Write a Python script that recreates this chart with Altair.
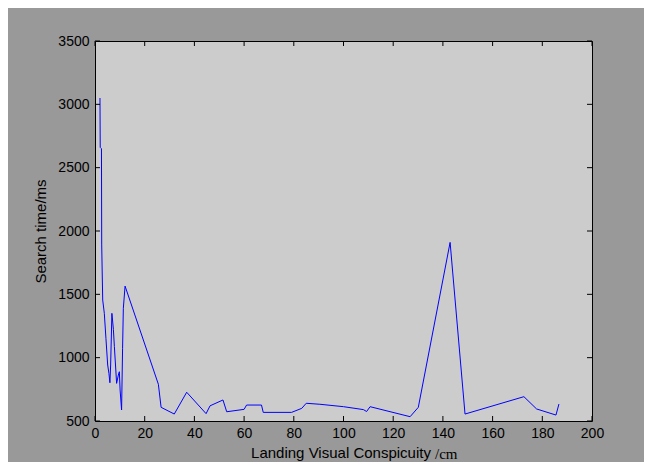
import altair as alt
import pandas as pd

# Line data (x in cm, y in ms)
conspicuity = [2.0, 2.1, 2.6, 2.7, 3.1, 3.75, 4.4, 5.1, 5.6, 6.0, 6.3, 6.8, 7.4, 7.8,
               8.7, 9.4, 9.8, 10.1, 10.7, 11.1, 11.4, 12.1, 25.5, 26.6, 31.9, 36.9,
               44.7, 46.3, 51.5, 53.0, 60.0, 61.0, 67.0, 67.7, 79.1, 83.2, 85.0, 90.5,
               100.0, 108.0, 109.3, 110.7, 126.8, 130.1, 142.9, 148.9, 172.6, 177.7,
               185.5, 186.7]
search_time = [3050, 2660, 2650, 1890, 1455, 1350, 1153, 942, 877, 802, 942, 1350, 1224, 1087,
               797, 863, 889, 745, 587, 1074, 1390, 1565, 790, 608, 555, 727,
               558, 620, 666, 573, 592, 626, 626, 568, 568, 600, 640, 632,
               613, 590, 575, 613, 534, 608, 1910, 555, 692, 595,
               547, 634]

x_ticks = [0, 20, 40, 60, 80, 100, 120, 140, 160, 180, 200]
y_ticks = [500, 1000, 1500, 2000, 2500, 3000, 3500]

W, H = 497, 380
FONT = "Liberation Sans"

df = pd.DataFrame({"x": conspicuity, "y": search_time, "i": range(len(conspicuity))})
xt = pd.DataFrame({"v": x_ticks})
yt = pd.DataFrame({"v": y_ticks})

xscale = alt.Scale(domain=[0, 200], nice=False, zero=False)
yscale = alt.Scale(domain=[500, 3500], nice=False, zero=False)

xaxis = alt.Axis(values=x_ticks, format="d", ticks=False, domain=False, grid=False,
                 labelFlush=False, labelOverlap=False,
                 labelFont=FONT, labelFontSize=14, labelColor="#000000", labelPadding=5,
                 title="Landing Visual Conspicuity", titleFont=FONT, titleFontSize=15,
                 titleFontWeight="normal", titleColor="#000000", titlePadding=5,
                 titleX=W / 2 - 3)
yaxis = alt.Axis(values=y_ticks, format="d", ticks=False, domain=False, grid=False,
                 labelFlush=False, labelOverlap=False,
                 labelFont=FONT, labelFontSize=14, labelColor="#000000", labelPadding=6,
                 title="Search time/ms", titleFont=FONT, titleFontSize=15,
                 titleFontWeight="normal", titleColor="#000000", titlePadding=9)

line = alt.Chart(df).mark_line(color="#0000ff", strokeWidth=1).encode(
    x=alt.X("x:Q", scale=xscale, axis=xaxis),
    y=alt.Y("y:Q", scale=yscale, axis=yaxis),
    order="i:Q",
)

tick_style = dict(color="#000000", strokeWidth=1)
top_ticks = alt.Chart(xt).mark_rule(**tick_style).encode(
    x=alt.X("v:Q", scale=xscale), y=alt.value(0), y2=alt.value(5))
bot_ticks = alt.Chart(xt).mark_rule(**tick_style).encode(
    x=alt.X("v:Q", scale=xscale), y=alt.value(H - 5), y2=alt.value(H))
left_ticks = alt.Chart(yt).mark_rule(**tick_style).encode(
    y=alt.Y("v:Q", scale=yscale), x=alt.value(0), x2=alt.value(5))
right_ticks = alt.Chart(yt).mark_rule(**tick_style).encode(
    y=alt.Y("v:Q", scale=yscale), x=alt.value(W - 5), x2=alt.value(W))

unit = alt.Chart(pd.DataFrame({"t": ["/cm"]})).mark_text(
    font="Liberation Serif", fontSize=15, align="left", baseline="middle", color="#000000"
).encode(text="t:N", x=alt.value(340), y=alt.value(413))

chart = alt.layer(line, top_ticks, bot_ticks, left_ticks, right_ticks, unit).properties(
    width=W, height=H,
    background="#999999",
    padding={"left": 87, "top": 33, "right": 52, "bottom": 41},
    autosize=alt.AutoSizeParams(type="none"),
).configure_view(
    fill="#cccccc", stroke="#000000", strokeWidth=1
)

chart.save("out.html", embed_options={"renderer": "svg", "actions": False})
